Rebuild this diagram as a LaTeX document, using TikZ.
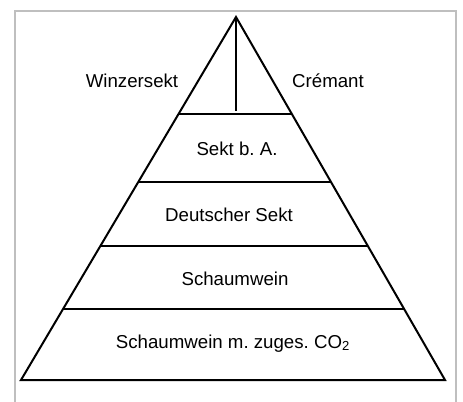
\documentclass[tikz,border=0pt]{standalone}
\usepackage{fontspec}
\setmainfont{Liberation Sans}
\frenchspacing
\usetikzlibrary{calc}

\begin{document}
\begin{tikzpicture}[x=0.75pt,y=-0.75pt,line width=1.5pt,
  tier/.style={anchor=base,inner sep=0pt,font=\fontsize{14}{16}\selectfont}]
  \useasboundingbox (0,0) rectangle (463,402);
  \draw[black!25,line width=1.5pt] (15,402) -- (15,11) -- (456,11) -- (456,402);
  \coordinate (top) at (236,17);
  \coordinate (bl) at (21,380);
  \coordinate (br) at (445,380);
  \coordinate (l1) at ($(top)!0.267!(bl)$);
  \coordinate (r1) at ($(top)!0.267!(br)$);
  \coordinate (l2) at ($(top)!0.455!(bl)$);
  \coordinate (r2) at ($(top)!0.455!(br)$);
  \coordinate (l3) at ($(top)!0.631!(bl)$);
  \coordinate (r3) at ($(top)!0.631!(br)$);
  \coordinate (l4) at ($(top)!0.804!(bl)$);
  \coordinate (r4) at ($(top)!0.804!(br)$);
  \coordinate (split) at (236,111);
  \draw[line join=miter] (top) -- (bl) -- (br) -- cycle;
  \draw (l1) -- (r1);
  \draw (l2) -- (r2);
  \draw (l3) -- (r3);
  \draw (l4) -- (r4);
  \draw (top) -- (split);
  \node[tier] (winzer) at (132,88) {Winzersekt};
  \node[tier] (cremant) at (328,88) {Crémant};
  \node[tier] (bA) at (237,156) {Sekt b. A.};
  \node[tier] (deutsch) at (229,222) {Deutscher Sekt};
  \node[tier] (schaum) at (235,285) {Schaumwein};
  \node[tier] (co2) at (233,348) {Schaumwein m. zuges. CO\textsubscript{2}};
\end{tikzpicture}
\end{document}
